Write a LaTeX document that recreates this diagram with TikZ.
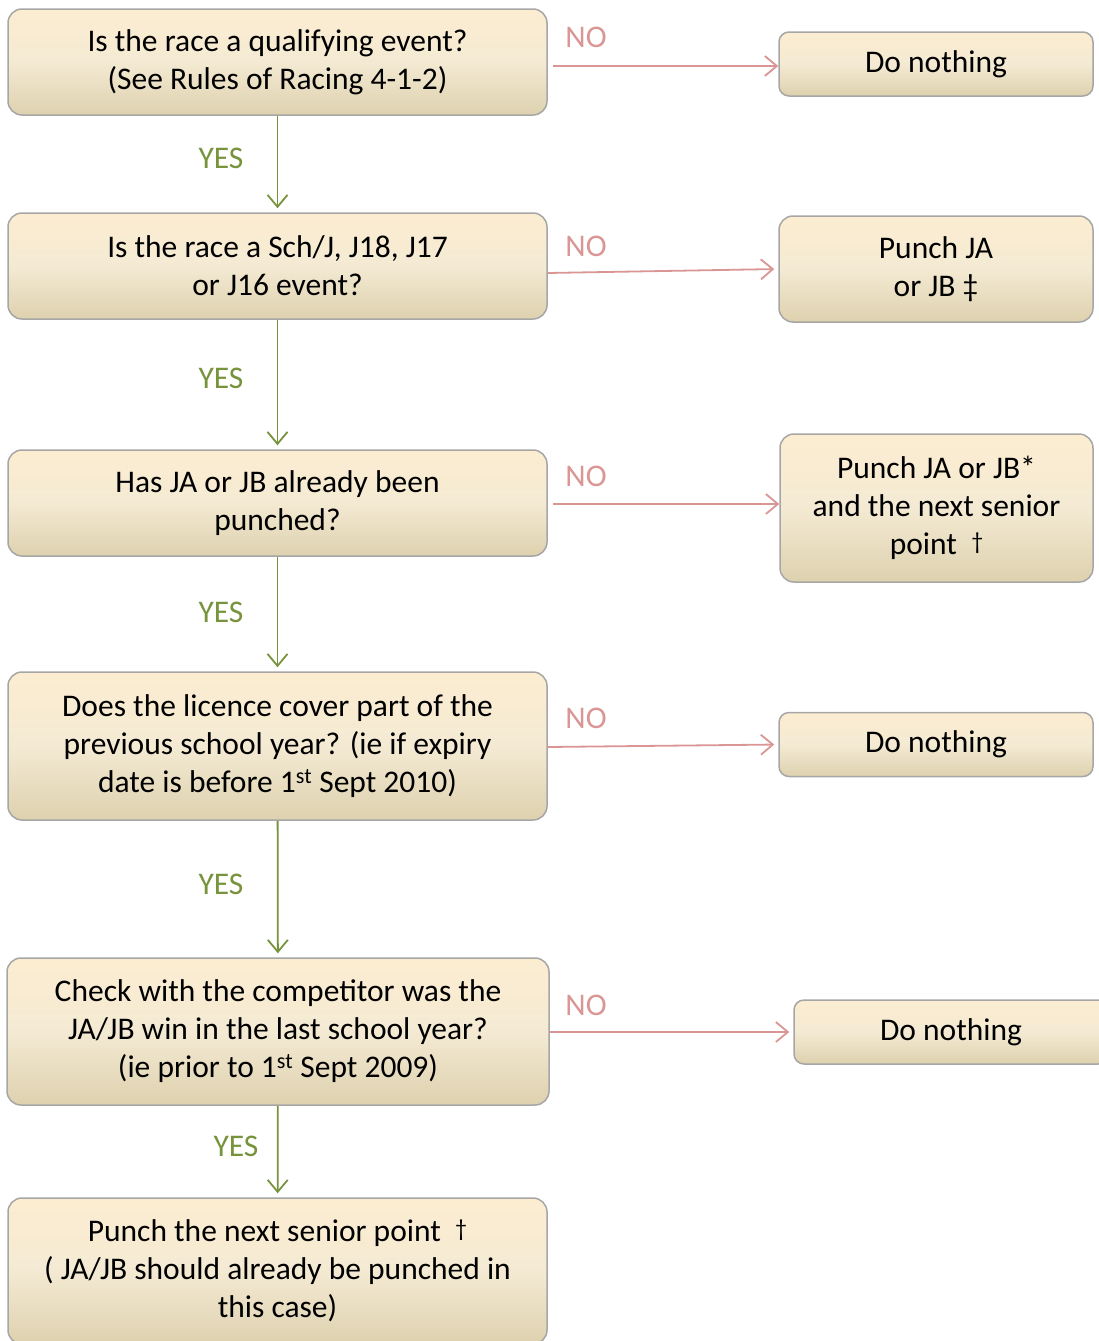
\documentclass[tikz,border=0pt]{standalone}
\usepackage{fontspec}
\setmainfont{Carlito}
\usetikzlibrary{arrows.meta}

\definecolor{boxtop}{RGB}{252,237,209}
\definecolor{boxmid}{RGB}{244,234,211}
\definecolor{boxbot}{RGB}{221,209,174}
\definecolor{boxline}{RGB}{166,166,166}
\definecolor{nored}{RGB}{217,150,148}
\definecolor{yesgreen}{RGB}{119,147,60}

\newcommand*{\updagger}{\raisebox{5pt}{\fontsize{24}{24}\selectfont\textdagger}}

\tikzset{
	box/.style={draw=boxline, line width=1.5pt, rounded corners=14pt,
		top color=boxtop, bottom color=boxbot, middle color=boxmid,
		align=center, inner sep=0pt, font=\fontsize{31.5}{38}\selectfont},
	noarrow/.style={nored, line width=1.8pt, -{Straight Barb[length=12pt,width=20pt]}},
	yesarrow/.style={yesgreen, line width=1.8pt, -{Straight Barb[length=12pt,width=20pt]}},
	nolabel/.style={text=nored, font=\fontsize{31.5}{36}\selectfont},
	yeslabel/.style={text=yesgreen, font=\fontsize{31.5}{36}\selectfont},
}

\begin{document}
\begin{tikzpicture}[x=1pt,y=1pt]

	\clip (0,0) rectangle (1099,-1341);

	% questions
	\node[box, minimum width=539pt, minimum height=106pt] (qual) at (277.5,-62)
		{Is the race a qualifying event?\\(See Rules of Racing 4-1-2)};
	\node[box, minimum width=539pt, minimum height=106pt] (event) at (277.5,-266)
		{Is the race a Sch/J, J18, J17\\or J16 event?};
	\node[box, minimum width=539pt, minimum height=106pt] (punched) at (277.5,-503)
		{Has JA or JB already been\\punched?};
	\node[box, minimum width=539pt, minimum height=148pt] (licence) at (277.5,-746)
		{Does the licence cover part of the\\previous school year? (ie if expiry\\date is before 1\textsuperscript{st} Sept 2010)};
	\node[box, minimum width=542pt, minimum height=147pt] (check) at (278,-1031.5)
		{Check with the competitor was the\\JA/JB win in the last school year?\\(ie prior to 1\textsuperscript{st} Sept 2009)};
	\node[box, minimum width=539pt, minimum height=146pt] (senior) at (277.5,-1271)
		{Punch the next senior point~ \updagger\\( JA/JB should already be punched in\\this case)};

	% answers
	\node[box, rounded corners=10pt, minimum width=314pt, minimum height=64pt] (nothingA) at (936,-64)
		{Do nothing};
	\node[box, minimum width=314pt, minimum height=106pt] (punchA) at (936,-269)
		{Punch JA\\or JB \textdaggerdbl};
	\node[box, minimum width=313pt, minimum height=148pt] (punchB) at (936.5,-508)
		{Punch JA or JB*\\and the next senior\\point~ \updagger};
	\node[box, rounded corners=10pt, minimum width=314pt, minimum height=64pt] (nothingB) at (936,-744.5)
		{Do nothing};
	\node[box, rounded corners=10pt, minimum width=314pt, minimum height=64pt] (nothingC) at (951,-1032)
		{Do nothing};

	% yes
	\draw[yesarrow, shorten >=4pt] (qual) -- (event);
	\draw[yesarrow, shorten >=4pt] (event) -- (punched);
	\draw[yesarrow, shorten >=4pt] (punched) -- (licence);
	\draw[yesarrow, shorten >=4pt] (licence) -- (check);
	\draw[yesarrow, shorten >=4pt] (check) -- (senior);
	\node[yeslabel] (yesA) at (221,-158) {YES};
	\node[yeslabel] (yesB) at (221,-378) {YES};
	\node[yeslabel] (yesC) at (221,-612) {YES};
	\node[yeslabel] (yesD) at (221,-884) {YES};
	\node[yeslabel] (yesE) at (236,-1146) {YES};

	% no
	\draw[noarrow, shorten <=5pt] ([yshift=-4pt]qual.east) -- ([yshift=-2pt]nothingA.west);
	\draw[noarrow, shorten >=4pt] ([yshift=-7pt]event.east) -- (punchA.west);
	\draw[noarrow, shorten <=5pt] ([yshift=-1pt]punched.east) -- ([yshift=4pt]punchB.west);
	\draw[noarrow, shorten >=4pt] ([yshift=-1pt]licence.east) -- ([yshift=0pt]nothingB.west);
	\draw[noarrow, shorten >=4pt] ([yshift=-0.5pt]check.east) -- (nothingC.west);
	\node[nolabel] (noA) at (586,-37) {NO};
	\node[nolabel] (noB) at (586,-246) {NO};
	\node[nolabel] (noC) at (586,-476) {NO};
	\node[nolabel] (noD) at (586,-718) {NO};
	\node[nolabel] (noE) at (586,-1005) {NO};

\end{tikzpicture}
\end{document}
